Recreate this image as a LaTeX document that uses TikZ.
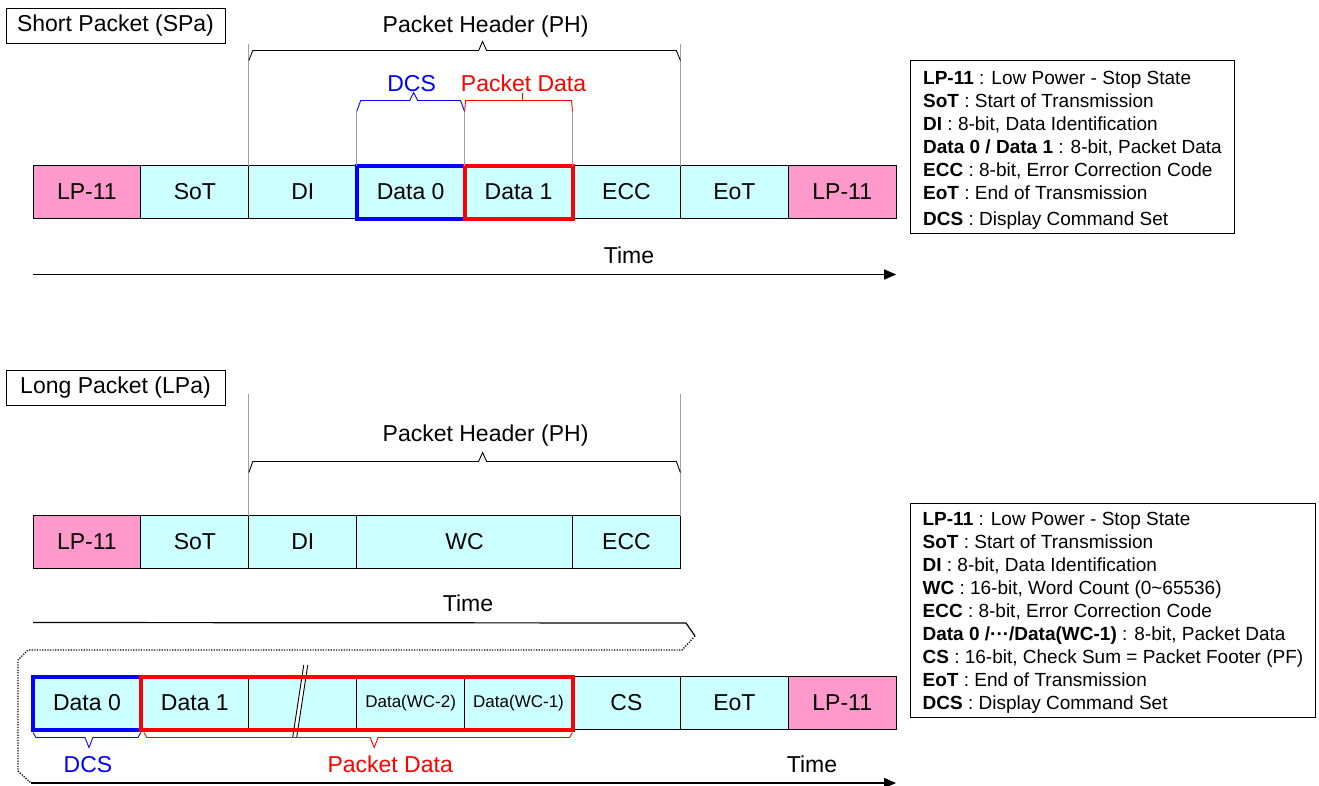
\documentclass[tikz,border=0pt]{standalone}
\usepackage{fontspec}
\setmainfont{Liberation Sans}
\usetikzlibrary{arrows.meta,calc}
\definecolor{cyanc}{HTML}{CCFFFF}
\definecolor{pinkc}{HTML}{FF99CC}
\definecolor{blu}{HTML}{0000FF}
\definecolor{rd}{HTML}{FF0000}
\definecolor{guide}{HTML}{A0A0A0}
\begin{document}
\begin{tikzpicture}[x=1pt,y=-1pt,
  cell/.style={draw=black, line width=0.9pt, fill=cyanc, minimum width=107.9pt, minimum height=53pt, inner sep=0pt, outer sep=0pt, font=\fontsize{23}{27}\selectfont, anchor=west},
  pinkcell/.style={cell, fill=pinkc},
  small/.style={font=\fontsize{17}{20}\selectfont},
  big/.style={font=\fontsize{23}{27}\selectfont, inner sep=0pt},
  titlebox/.style={draw=black, line width=0.9pt, minimum width=219pt, minimum height=35pt, inner sep=0pt, font=\fontsize{23}{27}\selectfont},
  legend/.style={draw=black, line width=0.9pt, align=left, anchor=north west, inner sep=0pt, font=\fontsize{19}{23}\selectfont},
  guideline/.style={guide, line width=0.7pt},
  bracel/.style={line width=0.9pt},
  timearrow/.style={line width=1.2pt, -{Triangle[length=12pt,width=10pt]}},
  dots/.style={line width=1.3pt, dash pattern=on 1.2pt off 1.4pt},
  thickbox/.style={line width=4pt}
]
\useasboundingbox (0,0) rectangle (1319,785);

% ---------- Short packet ----------
\node[titlebox] (tsp) at (115.5,25.5) {Short Packet (SPa)};

\node[pinkcell] (s1) at (33,192) {LP-11};
\node[cell] (s2) at (s1.east) {SoT};
\node[cell] (s3) at (s2.east) {DI};
\node[cell] (s4) at (s3.east) {Data 0};
\node[cell] (s5) at (s4.east) {Data 1};
\node[cell] (s6) at (s5.east) {ECC};
\node[cell] (s7) at (s6.east) {EoT};
\node[pinkcell] (s8) at (s7.east) {LP-11};
\draw[blu, thickbox] (s4.north west) rectangle (s4.south east);
\draw[rd, thickbox] (s5.north west) rectangle (s5.south east);

% PH brace
\coordinate (phA) at ($(s3.north west)+(0,-105)$);
\coordinate (phB) at ($(s7.north west)+(0,-105)$);
\coordinate (phM) at ($(phA)!0.5!(phB)+(18,0)$);
\draw[guideline] (s3.north west) -- ($(s3.north west)+(0,-122)$);
\draw[guideline] (s7.north west) -- ($(s7.north west)+(0,-122)$);
\draw[bracel] (phA) -- ($(phA)+(4,-10)$) -- ($(phM)+(-4,-10)$) -- ($(phM)+(0,-19)$) -- ($(phM)+(4,-10)$) -- ($(phB)+(-4,-10)$) -- (phB);
\node[big] (ph1) at ($(phM)+(3,-34)$) {Packet Header (PH)};

% DCS brace
\coordinate (dA) at ($(s4.north west)+(0,-54)$);
\coordinate (dB) at ($(s4.north east)+(0,-54)$);
\coordinate (dM) at ($(dA)!0.5!(dB)+(3,0)$);
\draw[guideline] (s4.north west) -- (dA);
\draw[guideline] (s5.north west) -- (dB);
\draw[blu, bracel] (dA) -- ($(dA)+(4,-11)$) -- ($(dM)+(-4,-11)$) -- ($(dM)+(0,-19)$) -- ($(dM)+(4,-11)$) -- ($(dB)+(-4,-11)$) -- (dB);
\node[big, text=blu] (dcs1) at ($(dM)+(-2,-28)$) {DCS};

% Packet data brace
\coordinate (pA) at ($(s5.north west)+(0,-54)$);
\coordinate (pB) at ($(s5.north east)+(0,-54)$);
\coordinate (pM) at ($(pA)!0.5!(pB)+(4,0)$);
\draw[guideline] (s5.north east) -- (pB);
\draw[rd, bracel] (pA) -- ($(pA)+(1,-11)$) -- ($(pB)+(-1,-11)$) -- (pB);
\draw[rd, bracel] ($(pM)+(0,-11)$) -- ($(pM)+(0,-19)$);
\node[big, text=rd] (pd1) at ($(pM)+(1,-28)$) {Packet Data};

% time arrow
\coordinate (ta) at ($(s1.south west)+(0,56)$);
\coordinate (tb) at ($(s8.south east)+(0,56)$);
\draw[timearrow] (ta) -- (tb);
\node[big] (time1) at (629,255) {Time};

% legend top
\node[legend, minimum width=324pt, minimum height=173pt] (leg1) at (910,60) {%
\rule{0pt}{20pt}\textbf{LP-11} : Low Power - Stop State\\
\textbf{SoT} : Start of Transmission\\
\textbf{DI} : 8-bit, Data Identification\\
\textbf{Data 0 / Data 1} : 8-bit, Packet Data\\
\textbf{ECC} : 8-bit, Error Correction Code\\
\textbf{EoT} : End of Transmission\\[3pt]
\textbf{DCS} : Display Command Set};

% ---------- Long packet ----------
\node[titlebox] (tlp) at (115.5,388) {Long Packet (LPa)};

\node[pinkcell] (l1) at (33,542) {LP-11};
\node[cell] (l2) at (l1.east) {SoT};
\node[cell] (l3) at (l2.east) {DI};
\node[cell, minimum width=215.8pt] (l4) at (l3.east) {WC};
\node[cell] (l5) at (l4.east) {ECC};

\coordinate (qA) at ($(l3.north west)+(0,-43)$);
\coordinate (qB) at ($(l5.north east)+(0,-43)$);
\coordinate (qM) at ($(qA)!0.5!(qB)+(18,0)$);
\draw[guideline] (l3.north west) -- ($(l3.north west)+(0,-122)$);
\draw[guideline] (l5.north east) -- ($(l5.north east)+(0,-122)$);
\draw[bracel] (qA) -- ($(qA)+(4,-11)$) -- ($(qM)+(-4,-11)$) -- ($(qM)+(0,-20)$) -- ($(qM)+(4,-11)$) -- ($(qB)+(-4,-11)$) -- (qB);
\node[big] (ph2) at ($(qM)+(3,-37)$) {Packet Header (PH)};

\node[big] (time2) at (468,603) {Time};

% wrap-around time arrow
\coordinate (w1) at ($(l1.south west)+(0,54)$);
\coordinate (w2) at (686,623);
\coordinate (w3) at (695,636);
\coordinate (w4) at (682,650);
\coordinate (w5) at (28,650);
\coordinate (w6) at (18,660);
\coordinate (w7) at (18,771);
\coordinate (w8) at (31,783);
\coordinate (w9) at (896,783);
\draw[line width=1.2pt] (w1) -- (w2) -- (w3);
\draw[dots] (w3) -- (w4) -- (w5) -- (w6) -- (w7) -- (w8);
\draw[timearrow] (w8) -- (w9);

\node[cell] (b1) at (33,703) {Data 0};
\node[cell] (b2) at (b1.east) {Data 1};
\node[cell] (b3) at (b2.east) {};
\node[cell, small] (b4) at (b3.east) {Data(WC-2)};
\node[cell, small] (b5) at (b4.east) {Data(WC-1)};
\node[cell] (b6) at (b5.east) {CS};
\node[cell] (b7) at (b6.east) {EoT};
\node[pinkcell] (b8) at (b7.east) {LP-11};

% break mark
\fill[white] ($(b3.center)+(1,-38)$) -- ($(b3.center)+(5,-38)$) -- ($(b3.center)+(-6,34)$) -- ($(b3.center)+(-10,34)$) -- cycle;
\draw[line width=0.9pt] ($(b3.center)+(1,-38)$) -- ($(b3.center)+(-10,34)$);
\draw[line width=0.9pt] ($(b3.center)+(5,-38)$) -- ($(b3.center)+(-6,34)$);

\draw[blu, thickbox] (b1.north west) rectangle (b1.south east);
\draw[rd, thickbox] (b2.north west) rectangle (b5.south east);

% bottom DCS brace
\coordinate (eA) at ($(b1.south west)+(0,3)$);
\coordinate (eB) at ($(b1.south east)+(0,3)$);
\coordinate (eM) at ($(eA)!0.5!(eB)+(2,0)$);
\draw[blu, bracel] (eA) -- ($(eA)+(3,5)$) -- ($(eM)+(-4,5)$) -- ($(eM)+(0,15)$) -- ($(eM)+(4,5)$) -- ($(eB)+(-3,5)$) -- (eB);
\node[big, text=blu] (dcs2) at ($(eM)+(-1,32)$) {DCS};

% bottom packet data brace
\coordinate (fA) at ($(b2.south west)+(3,3)$);
\coordinate (fB) at ($(b5.south east)+(0,3)$);
\coordinate (fM) at ($(fA)!0.5!(fB)+(16,0)$);
\draw[rd, bracel] (fA) -- ($(fA)+(3,5)$) -- ($(fM)+(-4,5)$) -- ($(fM)+(0,15)$) -- ($(fM)+(4,5)$) -- ($(fB)+(-3,5)$) -- (fB);
\node[big, text=rd] (pd2) at ($(fM)+(16,32)$) {Packet Data};

\node[big] (time3) at (812,764) {Time};

% legend bottom
\node[legend, minimum width=405pt, minimum height=214pt] (leg2) at (910,503) {%
\rule{0pt}{18pt}\textbf{LP-11} : Low Power - Stop State\\
\textbf{SoT} : Start of Transmission\\
\textbf{DI} : 8-bit, Data Identification\\
\textbf{WC} : 16-bit, Word Count (0\textasciitilde65536)\\
\textbf{ECC} : 8-bit, Error Correction Code\\
\textbf{Data 0 /···/Data(WC-1)} : 8-bit, Packet Data\\
\textbf{CS} : 16-bit, Check Sum = Packet Footer (PF)\\
\textbf{EoT} : End of Transmission\\
\textbf{DCS} : Display Command Set};
\end{tikzpicture}
\end{document}
